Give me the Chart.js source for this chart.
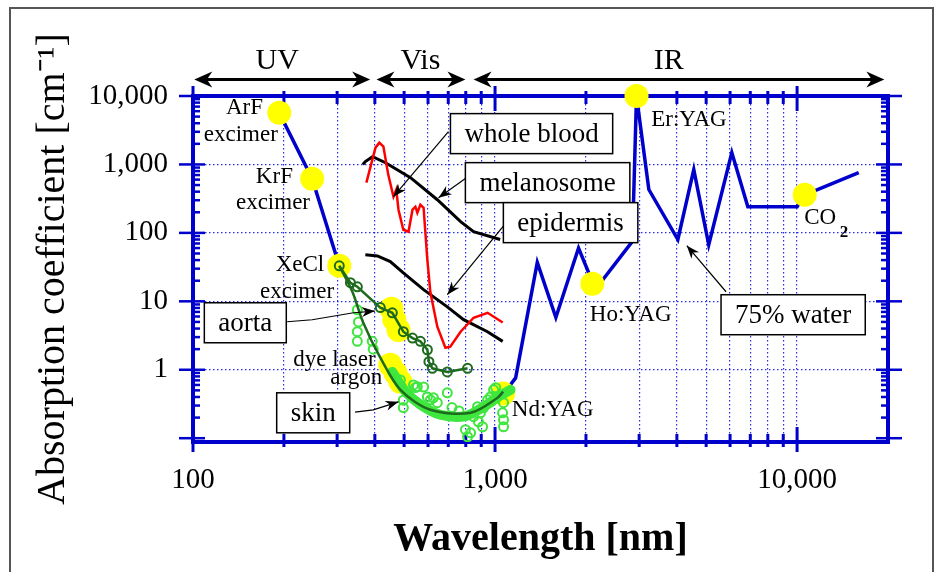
<!DOCTYPE html>
<html>
<head>
<meta charset="utf-8">
<script src="https://cdn.jsdelivr.net/npm/chart.js@4"></script>
<style>
  html, body { margin: 0; padding: 0; background: #fff; }
  canvas { display: block; }
</style>
</head>
<body>
<canvas id="chart" width="938" height="572"></canvas>
<script>
// DONNEES (longueur d'onde en nm, coefficient d'absorption en cm-1)

// eau 75% (UV puis IR, coupure au milieu)
const waterWl  = [193, 248, 305, 700, 1110, 1170, 1380, 1590, 1890, 2150, 2850, 2940, 3230, 4030, 4550, 5100, 6080, 6870, 10000, 10600, 16000];
const waterAbs = [5700, 620, 33, null, 0.56, 0.76, 37, 5.8, 60, 15, 75, 10000, 430, 80, 840, 67, 1490, 240, 240, 360, 760];

// sang total
const bloodWl  = [375, 402, 414, 427, 443, 461, 471, 479, 497, 517, 533, 545, 553, 566, 580, 588, 597, 611, 644, 685, 711, 769, 849, 945, 1060];
const bloodAbs = [542, 1760, 2080, 1820, 710, 338, 428, 218, 111, 104, 218, 241, 197, 258, 233, 101, 40, 13.4, 4.25, 2.1, 2.17, 3.6, 5.76, 6.8, 4.9];

// melanosome
const melWl  = [365, 372, 393, 434, 525, 644, 769, 849, 1040];
const melAbs = [1000, 1100, 1300, 1060, 640, 305, 146, 104, 80];

// epiderme
const epiWl  = [372, 408, 450, 497, 580, 695, 787, 944, 1060];
const epiAbs = [48, 46, 38, 26, 14.8, 8.3, 5.4, 3.6, 2.6];

// aorte (points + ligne)
const aortaWl  = [305, 332, 350, 417, 457, 497, 533, 566, 597, 604, 620, 695, 811];
const aortaAbs = [33, 18.7, 16.3, 8.1, 6.8, 3.6, 2.9, 2.6, 1.96, 1.31, 1.05, 0.93, 1.05];

// peau : courbe lissee
const skinWl  = [305, 337, 366, 417, 486, 611, 830, 1020, 1064];
const skinAbs = [33, 13.8, 4.9, 1.5, 0.51, 0.26, 0.235, 0.39, 0.48];

// peau : bande de mesures
const bandWl  = [457, 505, 566, 659, 798, 929, 1040, 1125];
const bandAbs = [0.93, 0.48, 0.31, 0.22, 0.21, 0.3, 0.42, 0.51];

// peau : mesures individuelles
const skinPtWl  = [350, 353, 350, 350, 392, 395, 486, 537, 545, 497, 597, 625, 695, 798, 811, 881, 916, 966, 1005, 1059, 1067, 1067, 849, 909, 644, 875, 945, 989, 1067, 830, 895, 497, 553, 611, 580, 760, 720];
const skinPtAbs = [7.5, 5.0, 3.6, 2.6, 2.6, 2.0, 0.71, 0.6, 0.55, 0.28, 0.4, 0.39, 0.46, 0.133, 0.105, 0.174, 0.278, 0.403, 0.546, 0.235, 0.186, 0.147, 0.206, 0.147, 0.33, 0.288, 0.364, 0.51, 0.33, 0.12, 0.235, 0.36, 0.564, 0.364, 0.56, 0.25, 0.28];

// lasers (cercles jaunes)
const laserWl  = [193, 248, 305, 2940, 2100, 10600, 1064, 454, 464, 479, 450, 468, 486];
const laserAbs = [5700, 620, 33, 10000, 18, 360, 0.45, 7.8, 5.4, 3.8, 1.18, 0.9, 0.67];

// graduations
const xTickValues = [100, 200, 300, 400, 500, 600, 700, 800, 900, 1000, 2000, 3000, 4000, 5000, 6000, 7000, 8000, 9000, 10000, 20000];
const xLabelValues = [100, 1000, 10000];
const xLabelTexts  = ['100', '1,000', '10,000'];
const yTickValues = [0.1, 0.2, 0.3, 0.4, 0.5, 0.6, 0.7, 0.8, 0.9,
                     1, 2, 3, 4, 5, 6, 7, 8, 9,
                     10, 20, 30, 40, 50, 60, 70, 80, 90,
                     100, 200, 300, 400, 500, 600, 700, 800, 900,
                     1000, 2000, 3000, 4000, 5000, 6000, 7000, 8000, 9000, 10000];
const yLabelValues = [1, 10, 100, 1000, 10000];
const yLabelTexts  = ['1', '10', '100', '1,000', '10,000'];

// ANNOTATIONS (ancrees en coordonnees de donnees)
const regionNames = ['UV', 'Vis', 'IR'];
const regionFrom  = [101, 405, 849];
const regionTo    = [386, 798, 19450];
const regionMid   = [190, 566, 3760];

const laserNames = ['ArF', 'excimer', 'KrF', 'excimer', 'XeCl', 'excimer', 'dye laser', 'argon', 'Nd:YAG', 'Ho:YAG', 'Er:YAG', 'CO'];
const laserNameWl  = [148, 144, 186, 184, 226, 221, 294, 347, 1552, 2812, 4385, 11920];
const laserNameAbs = [6760, 2730, 664, 277, 34.3, 13.8, 1.4, 0.764, 0.26, 6.37, 4520, 167];

const boxNames = ['whole blood', 'melanosome', 'epidermis', 'aorta', 'skin', '75% water'];
const boxWl    = [1321, 1493, 1779, 149, 250, 9705];
const boxAbs   = [2820, 542, 141, 4.86, 0.235, 6.37];

// fleches : liste de points [wl, abs], la pointe au dernier
const pointers = [
  [[701, 3020], [461, 338]],
  [[804, 641], [650, 327]],
  [[1067, 127], [695, 12.5]],
  [[205, 5.03], [248, 5.38], [340, 6.81], [400, 7.2]],
  [[344, 0.24], [395, 0.26], [479, 0.34]],
  [[5818, 13.8], [4315, 65]]
];

const axisBlue = '#0000cc';
const serif = "'Liberation Serif', 'Times New Roman', serif";

function pts(xs, ys) {
  return xs.map((x, i) => ({x: x, y: ys[i]}));
}
function isDecade(v) {
  const l = Math.log10(v);
  return Math.abs(l - Math.round(l)) < 1e-9;
}

// cadre bleu + graduations vers l'interieur
const frameTicks = {
  id: 'frameTicks',
  beforeDatasetsDraw(chart) {
    const {ctx, chartArea: a, scales: {x, y}} = chart;
    ctx.save();
    ctx.strokeStyle = axisBlue;
    const seg = (x1, y1, x2, y2) => { ctx.beginPath(); ctx.moveTo(x1, y1); ctx.lineTo(x2, y2); ctx.stroke(); };
    ctx.lineWidth = 3;
    x.ticks.forEach(t => {
      if (t.value >= 20000) return;
      const p = x.getPixelForValue(t.value);
      const maj = isDecade(t.value);
      const inL = maj ? 15 : 8, outL = maj ? 10 : 5;
      seg(p, a.bottom - inL, p, a.bottom + outL);
      seg(p, a.top + inL, p, a.top - outL);
    });
    ctx.lineWidth = 2.5;
    y.ticks.forEach(t => {
      const p = y.getPixelForValue(t.value);
      const maj = isDecade(t.value);
      const inL = maj ? 12 : 7, outL = maj ? 14 : 0;
      seg(a.left - outL, p, a.left + inL, p);
      seg(a.right + outL, p, a.right - inL, p);
    });
    ctx.lineWidth = 4;
    ctx.strokeRect(a.left, a.top, a.right - a.left, a.bottom - a.top);
    ctx.restore();
  }
};

function arrowHead(ctx, x1, y1, x2, y2, len, half) {
  const ang = Math.atan2(y2 - y1, x2 - x1);
  ctx.beginPath();
  ctx.moveTo(x2, y2);
  ctx.lineTo(x2 - len * Math.cos(ang) + half * Math.sin(ang), y2 - len * Math.sin(ang) - half * Math.cos(ang));
  ctx.lineTo(x2 - len * 0.7 * Math.cos(ang), y2 - len * 0.7 * Math.sin(ang));
  ctx.lineTo(x2 - len * Math.cos(ang) - half * Math.sin(ang), y2 - len * Math.sin(ang) + half * Math.cos(ang));
  ctx.closePath();
  ctx.fill();
}

// textes, boites et fleches
const notes = {
  id: 'notes',
  afterDraw(chart) {
    const {ctx, scales: {x, y}} = chart;
    const X = v => x.getPixelForValue(v);
    const Y = v => y.getPixelForValue(v);
    ctx.save();
    ctx.fillStyle = '#000';
    ctx.strokeStyle = '#000';
    ctx.textAlign = 'center';
    ctx.textBaseline = 'middle';

    // cadre exterieur
    ctx.strokeStyle = '#555';
    ctx.lineWidth = 2;
    ctx.strokeRect(10, 8, 923, 600);
    ctx.strokeStyle = '#000';

    // UV / Vis / IR
    const arrowY = Y(17400), nameY = Y(31800);
    ctx.font = '30px ' + serif;
    regionNames.forEach((n, i) => {
      const x1 = X(regionFrom[i]), x2 = X(regionTo[i]);
      ctx.fillText(n, X(regionMid[i]), nameY);
      ctx.lineWidth = 3;
      ctx.beginPath(); ctx.moveTo(x1 + 8, arrowY); ctx.lineTo(x2 - 8, arrowY); ctx.stroke();
      arrowHead(ctx, x2 - 10, arrowY, x2, arrowY, 18, 8);
      arrowHead(ctx, x1 + 10, arrowY, x1, arrowY, 18, 8);
    });

    // noms des lasers
    ctx.font = '23px ' + serif;
    laserNames.forEach((n, i) => {
      ctx.fillText(n, X(laserNameWl[i]), Y(laserNameAbs[i]));
    });
    const coW = ctx.measureText('CO').width;
    ctx.font = 'bold 17px ' + serif;
    ctx.fillText('2', X(11920) + coW / 2 + 8, Y(167) + 15);

    // fleches fines
    ctx.lineWidth = 1.2;
    pointers.forEach(list => {
      const p = list.map(q => [X(q[0]), Y(q[1])]);
      ctx.beginPath();
      ctx.moveTo(p[0][0], p[0][1]);
      for (let i = 1; i < p.length; i++) ctx.lineTo(p[i][0], p[i][1]);
      ctx.stroke();
      const a = p[p.length - 2], b = p[p.length - 1];
      arrowHead(ctx, a[0], a[1], b[0], b[1], 13, 5);
    });

    // boites
    ctx.font = '27px ' + serif;
    boxNames.forEach((n, i) => {
      const cx = X(boxWl[i]), cy = Y(boxAbs[i]);
      const w = ctx.measureText(n).width + 28, h = 40;
      ctx.fillStyle = '#fff';
      ctx.fillRect(cx - w / 2, cy - h / 2, w, h);
      ctx.lineWidth = 1.5;
      ctx.strokeRect(cx - w / 2, cy - h / 2, w, h);
      ctx.fillStyle = '#000';
      ctx.fillText(n, cx, cy + 1);
    });
    ctx.restore();
  }
};

const ctx = document.getElementById('chart').getContext('2d');

const chart = new Chart(ctx, {
  type: 'line',
  data: {
    datasets: [
      {
        label: 'whole blood', data: pts(bloodWl, bloodAbs), order: 1,
        borderColor: '#ff0000', borderWidth: 2.5, pointRadius: 0, tension: 0
      },
      {
        label: 'melanosome', data: pts(melWl, melAbs), order: 2,
        borderColor: '#000', borderWidth: 3, pointRadius: 0, tension: 0
      },
      {
        label: 'epidermis', data: pts(epiWl, epiAbs), order: 2,
        borderColor: '#000', borderWidth: 3, pointRadius: 0, tension: 0
      },
      {
        label: 'skin', data: pts(skinWl, skinAbs), order: 3,
        borderColor: '#1e6b1e', borderWidth: 2.5, pointRadius: 0, tension: 0.3
      },
      {
        label: 'aorta', data: pts(aortaWl, aortaAbs), order: 4,
        borderColor: '#1e6b1e', borderWidth: 2.5, tension: 0,
        pointRadius: 4.5, pointBorderWidth: 2, pointBorderColor: '#1e6b1e', pointBackgroundColor: 'rgba(0,0,0,0)'
      },
      {
        label: 'skin data', data: pts(skinPtWl, skinPtAbs), order: 5, showLine: false,
        pointRadius: 4.5, pointBorderWidth: 2, pointBorderColor: '#3ee63e', pointBackgroundColor: 'rgba(0,0,0,0)'
      },
      {
        label: 'skin band', data: pts(bandWl, bandAbs), order: 6,
        borderColor: '#3ee63e', borderWidth: 10, pointRadius: 0, tension: 0.3,
        borderCapStyle: 'round', borderJoinStyle: 'round'
      },
      {
        label: 'lasers', data: pts(laserWl, laserAbs), order: 7, showLine: false, clip: false,
        pointRadius: 12, pointBorderWidth: 0, pointBackgroundColor: '#ffff00', pointBorderColor: '#ffff00'
      },
      {
        label: '75% water', data: pts(waterWl, waterAbs), order: 8, spanGaps: false,
        borderColor: axisBlue, borderWidth: 3.5, pointRadius: 0, tension: 0
      }
    ]
  },
  options: {
    responsive: false,
    animation: false,
    events: [],
    layout: { padding: { left: 0, top: 96, right: 50, bottom: 0 } },
    plugins: {
      legend: { display: false },
      tooltip: { enabled: false }
    },
    scales: {
      x: {
        type: 'logarithmic',
        position: 'bottom',
        min: 100,
        max: 20000,
        afterFit: s => { s.height = 130; },
        afterBuildTicks: s => { s.ticks = xTickValues.map(v => ({value: v})); },
        border: { display: false, dash: [1.5, 2.5] },
        grid: {
          drawTicks: false,
          lineWidth: 1.2,
          color: c => (c.tick && c.tick.value > 100 && c.tick.value < 20000) ? 'rgba(20,20,235,0.9)' : 'rgba(0,0,0,0)'
        },
        ticks: {
          autoSkip: false,
          maxRotation: 0,
          padding: 21,
          color: '#000',
          font: { family: serif, size: 29 },
          callback: v => { const i = xLabelValues.indexOf(v); return i >= 0 ? xLabelTexts[i] : ''; }
        },
        title: {
          display: true,
          text: 'Wavelength [nm]',
          color: '#000',
          font: { family: serif, size: 40, weight: 'bold' },
          padding: { top: 0, bottom: 8 }
        }
      },
      y: {
        type: 'logarithmic',
        position: 'left',
        min: 0.088,
        max: 10000,
        afterFit: s => { s.width = 193; },
        afterBuildTicks: s => { s.ticks = yTickValues.map(v => ({value: v})); },
        border: { display: false, dash: [1.5, 2.5] },
        grid: {
          drawTicks: false,
          lineWidth: 1.2,
          color: c => (c.tick && isDecade(c.tick.value) && c.tick.value >= 1 && c.tick.value < 10000) ? 'rgba(20,20,235,0.9)' : 'rgba(0,0,0,0)'
        },
        ticks: {
          autoSkip: false,
          padding: 25,
          color: '#000',
          font: { family: serif, size: 29 },
          callback: v => { const i = yLabelValues.indexOf(v); return i >= 0 ? yLabelTexts[i] : ''; }
        },
        title: {
          display: true,
          text: 'Absorption coefficient [cm\u207B\u00B9]',
          color: '#000',
          font: { family: serif, size: 40 },
          padding: { top: 29, bottom: 0 }
        }
      }
    }
  },
  plugins: [frameTicks, notes]
});
</script>
</body>
</html>
